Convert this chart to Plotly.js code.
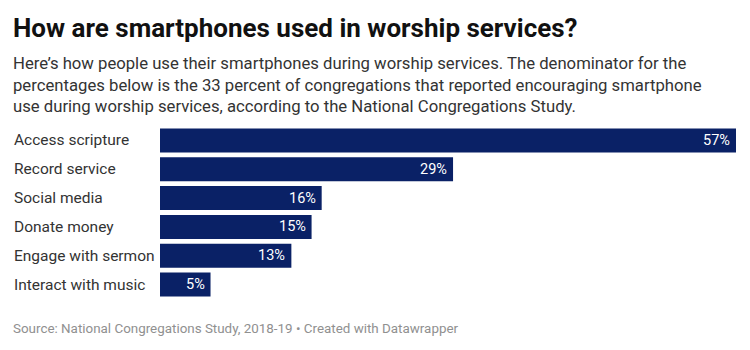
<!DOCTYPE html>
<html>
<head>
<meta charset="utf-8">
<script src="https://cdn.plot.ly/plotly-3.0.1.min.js"></script>
<style>html,body{margin:0;padding:0;background:#fff;}#chart{width:750px;height:350px;}</style>
</head>
<body>
<div id="chart"></div>
<script>
const categories = ["Access scripture", "Record service", "Social media", "Donate money", "Engage with sermon", "Interact with music"];
const values = [57, 29, 16, 15, 13, 5];
const valueLabels = ["57%", "29%", "16%", "15%", "13%", "5%"];

const titleText = "How are smartphones used in worship services?";
const subtitleText = "Here’s how people use their smartphones during worship services. The denominator for the<br>percentages below is the 33 percent of congregations that reported encouraging smartphone<br>use during worship services, according to the National Congregations Study.";
const footerText = "Source: National Congregations Study, 2018-19 • Created with Datawrapper";

const W = 750, H = 350;
const mL = 160, mR = 14, mT = 125.5, mB = 50.5;
const pw = W - mL - mR, ph = H - mT - mB;
const px = x => (x - mL) / pw;
const py = y => (H - mB - y) / ph;

const trace = {
  type: "bar",
  orientation: "h",
  y: categories,
  x: values,
  marker: {color: "#0a2166", line: {width: 0}},
  hoverinfo: "none"
};

const annotations = [
  {text: titleText, xref: "paper", yref: "paper", x: px(11), y: py(27), xanchor: "left", yanchor: "middle", showarrow: false,
   font: {family: "Roboto", size: 26, color: "#111111", weight: 700}},
  {text: subtitleText, xref: "paper", yref: "paper", x: px(11), y: py(51.5), xanchor: "left", yanchor: "top", showarrow: false, align: "left",
   font: {family: "Roboto", size: 16.7, color: "#333333"}},
  {text: footerText, xref: "paper", yref: "paper", x: px(11), y: py(329), xanchor: "left", yanchor: "middle", showarrow: false,
   font: {family: "Roboto", size: 13.4, color: "#909090"}}
];
categories.forEach(c => annotations.push({
  text: c, xref: "paper", yref: "y", x: px(12), y: c, xanchor: "left", yanchor: "middle", showarrow: false,
  font: {family: "Roboto", size: 15.5, color: "#333333"}
}));
categories.forEach((c, i) => annotations.push({
  text: valueLabels[i], xref: "x", yref: "y", x: values[i], y: c, xanchor: "right", yanchor: "middle", xshift: -4, showarrow: false,
  font: {family: "Roboto", size: 14.5, color: "#ffffff"}
}));

const layout = {
  width: W, height: H,
  margin: {l: mL, r: mR, t: mT, b: mB, pad: 0},
  paper_bgcolor: "#ffffff", plot_bgcolor: "#ffffff",
  bargap: 0.17,
  showlegend: false,
  xaxis: {range: [0, 57], showgrid: false, zeroline: false, showticklabels: false, ticks: "", fixedrange: true},
  yaxis: {autorange: "reversed", showgrid: false, zeroline: false, showticklabels: false, ticks: "", fixedrange: true},
  annotations: annotations
};

Plotly.newPlot("chart", [trace], layout, {staticPlot: true, displayModeBar: false});
</script>
</body>
</html>
